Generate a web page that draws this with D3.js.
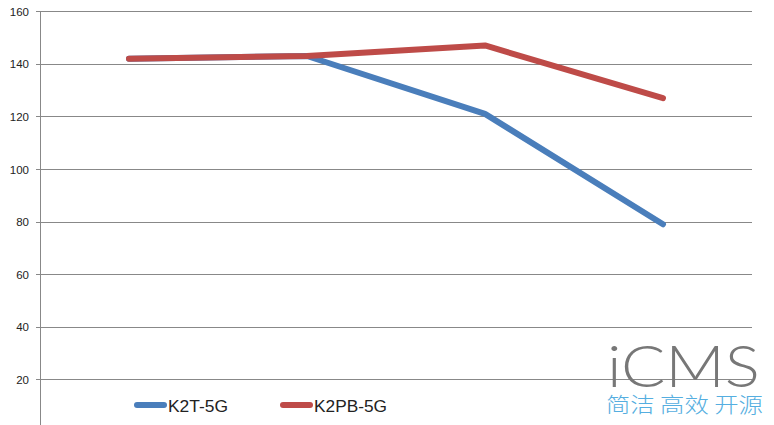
<!DOCTYPE html>
<html><head><meta charset="utf-8">
<script src="https://cdn.jsdelivr.net/npm/d3@7"></script>
<style>body{margin:0;background:#fff}svg{display:block}</style>
</head><body>
<svg id="c" width="774" height="425"></svg>
<script>
const categories = ["A", "B", "C", "D"];
const seriesNames = ["K2T-5G", "K2PB-5G"];
const k2t = [142, 143, 121, 79];
const k2pb = [142, 143, 147, 127];
const yTicks = [20, 40, 60, 80, 100, 120, 140, 160];
const colors = ["#4A7EBB", "#BE4B48"];

const svg = d3.select("#c");
const left = 40, right = 752;
const x = d3.scaleBand().domain(categories).range([left, right]);
const y = d3.scaleLinear().domain([0, 160]).range([432, 11.3]);

// gridlines
svg.append("g").selectAll("line").data(yTicks).join("line")
  .attr("x1", left - 4).attr("x2", right)
  .attr("y1", d => Math.round(y(d)) + 0.5).attr("y2", d => Math.round(y(d)) + 0.5)
  .attr("stroke", "#888").attr("stroke-width", 1);

// axis labels
svg.append("g").selectAll("text").data(yTicks).join("text")
  .attr("x", 29).attr("y", d => y(d) + 4.5)
  .attr("text-anchor", "end")
  .attr("font-family", "Liberation Sans, Arial, sans-serif")
  .attr("font-size", 11.5).attr("fill", "#222").text(d => d);

// y-axis line
svg.append("line").attr("x1", left + 0.5).attr("x2", left + 0.5)
  .attr("y1", 11).attr("y2", 425).attr("stroke", "#888");

// watermark
svg.append("text").attr("x", 607).attr("y", 387)
  .attr("font-family", "Lato, Roboto, sans-serif").attr("font-weight", 300)
  .attr("font-size", 58).attr("fill", "#777").attr("textLength", 153)
  .attr("lengthAdjust", "spacingAndGlyphs").text("iCMS");
svg.append("text").attr("x", 606).attr("y", 412)
  .attr("font-family", "Noto Sans CJK SC, sans-serif").attr("font-weight", 300)
  .attr("font-size", 21).attr("fill", "#55aee0").attr("textLength", 157)
  .attr("lengthAdjust", "spacingAndGlyphs").text("简洁 高效 开源");

const line = d3.line().x((d, i) => x(categories[i]) + x.bandwidth() / 2).y(d => y(d));
[k2t, k2pb].forEach((s, i) => {
  svg.append("path").datum(s).attr("d", line)
    .attr("fill", "none").attr("stroke", colors[i]).attr("stroke-width", 6)
    .attr("stroke-linecap", "round").attr("stroke-linejoin", "round");
});

// legend
const legX = [137, 283];
const legW = [60, 73];
seriesNames.forEach((n, i) => {
  svg.append("line").attr("x1", legX[i]).attr("x2", legX[i] + 27)
    .attr("y1", 405).attr("y2", 405).attr("stroke", colors[i])
    .attr("stroke-width", 6).attr("stroke-linecap", "round");
  svg.append("text").attr("x", legX[i] + 31).attr("y", 412)
    .attr("font-family", "Liberation Sans, Arial, sans-serif")
    .attr("font-size", 16).attr("fill", "#222")
    .attr("textLength", legW[i]).attr("lengthAdjust", "spacingAndGlyphs").text(n);
});
</script>
</body></html>
